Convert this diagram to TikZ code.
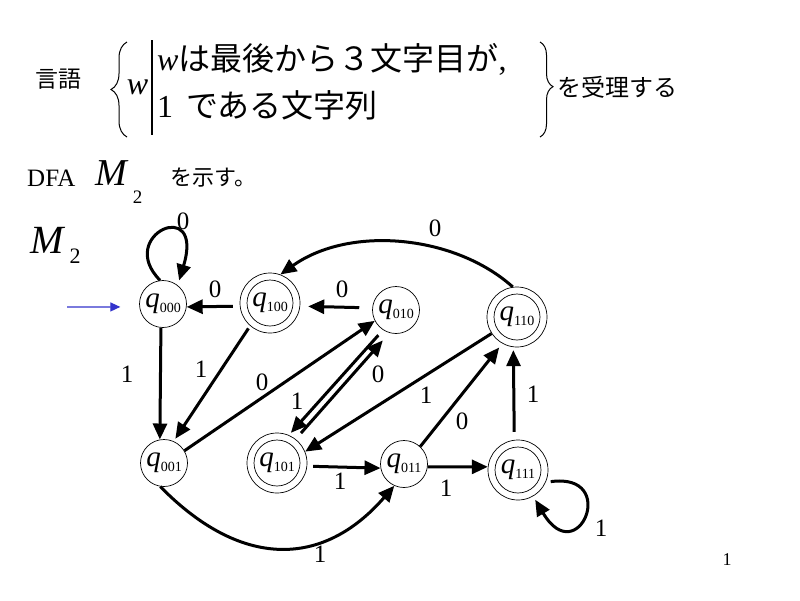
\documentclass[tikz,border=0pt]{standalone}
\usepackage{fontspec}
\setmainfont{Liberation Serif}
\newfontfamily\jp{Noto Sans CJK JP}
\usetikzlibrary{arrows.meta,decorations.pathreplacing}
\newcommand\qlab[1]{{\fontsize{29}{29}\selectfont\itshape q}\raisebox{-5pt}{\fontsize{14}{14}\selectfont #1}}
\begin{document}
\begin{tikzpicture}[x=1pt,y=-1pt,
  st/.style={circle,draw,line width=0.7pt,inner sep=0pt,minimum size=47pt},
  acc/.style={circle,draw,line width=0.7pt,inner sep=0pt,minimum size=60pt},
  inner/.style={line width=0.7pt},
  edge/.style={line width=3pt,-{Triangle[length=16pt,width=14pt]}},
  lbl/.style={font=\fontsize{25}{25}\selectfont,inner sep=0pt},
  bracestyle/.style={line width=1pt,decorate},
]
\fill[white] (0,0) rectangle (800,600);
\useasboundingbox (0,0) rectangle (800,600);

% header text
\node[anchor=west,inner sep=0pt,font=\jp\fontsize{23}{23}\selectfont] (gengo) at (35,79) {言語};
\draw[bracestyle,decoration={brace,amplitude=16pt,aspect=0.5}] (127,137) -- (127,42);
\node[inner sep=0pt,font=\fontsize{32}{32}\selectfont\itshape] (wv) at (137.5,87.5) {w};
\draw[line width=1.2pt] (152,40) -- (152,135);
\node[anchor=west,inner sep=0pt,font=\fontsize{32}{32}\selectfont] (line1) at (157,59.5) {\textit{w}{\jp は最後から３文字目が},};
\node[anchor=west,inner sep=0pt,font=\fontsize{32}{32}\selectfont] (line2) at (157,105) {1\hspace{13pt}{\jp である文字列}};
\draw[bracestyle,decoration={brace,amplitude=13pt,aspect=0.47}] (540,42) -- (540,137);
\node[anchor=west,inner sep=0pt,font=\jp\fontsize{24}{24}\selectfont] (juri) at (557,87.5) {を受理する};

\node[anchor=west,inner sep=0pt,font=\fontsize{25}{25}\selectfont] (dfa) at (27,178.5) {DFA};
\node[anchor=base west,inner sep=0pt] (m2a) at (95,185) {{\fontsize{38}{38}\selectfont\itshape M}\hspace{6pt}\raisebox{-18pt}{\fontsize{19}{19}\selectfont 2}};
\node[anchor=west,inner sep=0pt,font=\jp\fontsize{22}{22}\selectfont] (shimesu) at (170,177.5) {を示す。};
\node[anchor=base west,inner sep=0pt] (m2b) at (30,253) {{\fontsize{40}{40}\selectfont\itshape M}\hspace{6pt}\raisebox{-10pt}{\fontsize{22}{22}\selectfont 2}};

% states
\node[st]  (q000) at (163,304) {\qlab{000}};
\node[acc] (q100) at (270,303) {\qlab{100}};
\node[st]  (q010) at (396,310) {\qlab{010}};
\node[acc] (q110) at (517,317) {\qlab{110}};
\node[st]  (q001) at (164,463) {\qlab{001}};
\node[acc] (q101) at (277,463) {\qlab{101}};
\node[st]  (q011) at (404,464) {\qlab{011}};
\node[acc] (q111) at (518,470) {\qlab{111}};
\draw[inner] (q100.center) circle[radius=23pt];
\draw[inner] (q110.center) circle[radius=23pt];
\draw[inner] (q101.center) circle[radius=23pt];
\draw[inner] (q111.center) circle[radius=23pt];

% start arrow
\coordinate (start) at (67,307);
\draw[line width=1.3pt,color={rgb,255:red,51;green,51;blue,204},-{Triangle[length=10pt,width=9pt]},shorten >=19pt] (start) -- (q000.187);

% transitions
\draw[edge,shorten >=5pt] (q000.97) .. controls (115,235) and (205,195) .. (q000.52);
\draw[edge,shorten <=7pt] (q100.186) -- (q000.-7);
\draw[edge,shorten <=13pt,shorten >=8pt] (q010.175) -- (q100.-6);
\draw[edge] (q110.98) .. controls (455,235) and (350,225) .. (q100.70);
\draw[edge] (q000.-95) -- (q001.100);
\draw[edge,shorten <=3pt,shorten >=3pt] (q100.229) -- (q001.66);
\draw[edge] (q001.31) -- (q010.207);
\draw[edge,shorten <=7pt,shorten >=3pt] (q010.237) -- (q101.67);
\draw[edge,shorten <=8pt,shorten >=10pt] (q101.52) -- (q010.254);
\draw[edge] (q110.213) -- (q101.22);
\draw[edge,shorten >=5pt] (q011.47) -- (q110.241);
\draw[edge,shorten <=8pt,shorten >=3pt] (q111.97) -- (q110.263);
\draw[edge,shorten <=6pt] (q101.-6) -- (q011.190);
\draw[edge] (q011.-7) -- (q111.174);
\draw[edge] (q001.261) .. controls (240,568) and (322,569) .. (q011.246);
\draw[edge,shorten <=5pt,shorten >=4pt] (q111.-24) .. controls (620,472) and (578,572) .. (q111.-60);

% labels
\node[lbl] (l1)  at (183,221) {0};
\node[lbl] (l2)  at (215,289) {0};
\node[lbl] (l3)  at (342,289) {0};
\node[lbl] (l4)  at (435,228) {0};
\node[lbl] (l5)  at (127,374) {1};
\node[lbl] (l6)  at (201,369) {1};
\node[lbl] (l7)  at (262,382) {0};
\node[lbl] (l8)  at (297,401) {1};
\node[lbl] (l9)  at (378,374) {0};
\node[lbl] (l10) at (426,395) {1};
\node[lbl] (l11) at (462,421) {0};
\node[lbl] (l12) at (533,394) {1};
\node[lbl] (l13) at (340,481) {1};
\node[lbl] (l14) at (446,488) {1};
\node[lbl] (l15) at (320,554) {1};
\node[lbl] (l16) at (601,528) {1};

\node[inner sep=0pt,font=\fontsize{18}{18}\selectfont] (page) at (727,560) {1};
\end{tikzpicture}
\end{document}
